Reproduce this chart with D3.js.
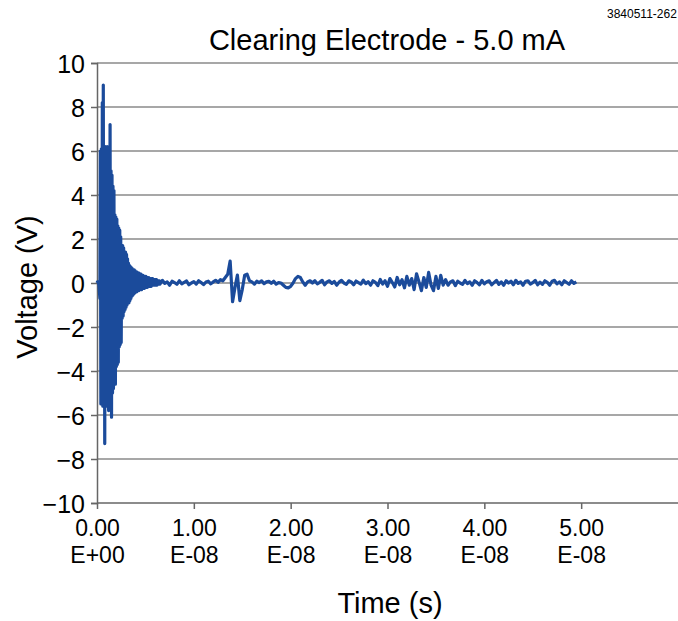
<html>
<head>
<title>Clearing Electrode - 5.0 mA</title>
<script src="https://d3js.org/d3.v7.min.js"></script>
<style>
body { margin: 0; background: #fff; }
text { font-family: "Liberation Sans", Arial, Helvetica, sans-serif; fill: #000; }
</style>
</head>
<body>
<script>

// tick labels
var yTicks = [-10, -8, -6, -4, -2, 0, 2, 4, 6, 8, 10];
var xTicks = [0, 10, 20, 30, 40, 50];           // ns
var xTickTop = ["0.00", "1.00", "2.00", "3.00", "4.00", "5.00"];
var xTickBottom = ["E+00", "E-08", "E-08", "E-08", "E-08", "E-08"];

// scope trace (time in ns, voltage in V)
// burst part sampled every 0.05 ns from t = 0
var burstStart = 0, burstStep = 0.05;
var burstV = [
  0, 0.05, 0.05, 0, -0.1, -0.4, -0.7, 6.0, -5.5, 6.1,
  -5.4, 8.2, -5.6, 9.0, -5.2, 6.2, -7.3, 6.2, -5.6, 6.1,
  -5.3, 6.2, -5.6, 6.0, -5.8, 6.2, -5.2, 7.2, -5.6, 5.1,
  -6.1, 4.9, -5.0, 4.4, -4.8, 4.2, -4.6, 3.1, -4.6, 3.0,
  -3.8, 2.9, -3.7, 2.6, -3.6, 2.5, -2.9, 2.4, -2.8, 2.1,
  -2.7, 1.7, -1.6, 1.7, -1.5, 1.6, -1.3, 1.4, -1.2, 1.4,
  -1.1, 1.3, -1.0, 1.1, -0.9, 0.9, -0.9, 0.8, -0.8, 0.75,
  -0.7, 0.7, -0.6, 0.65, -0.55, 0.6, -0.5, 0.6, -0.45, 0.55,
  -0.4, 0.5, -0.4, 0.5, -0.35, 0.45, -0.35, 0.45, -0.3, 0.4,
  -0.3, 0.4, -0.3, 0.35, -0.25, 0.35, -0.25, 0.3, -0.25, 0.3,
  -0.2, 0.3, -0.2, 0.25, -0.2, 0.25, -0.15, 0.25, -0.15, 0.2,
  -0.15, 0.2, -0.15, 0.2, -0.1, 0.2, -0.1, 0.15, -0.1, 0.15,
  -0.1, 0.15, -0.1, 0.15, -0.1, 0.1, -0.05, 0.1, -0.05, 0.1,
  -0.05
];
// rest of the trace sampled every 0.25 ns from t = 6.75
var tailStart = 6.75, tailStep = 0.25;
var tailV = [
  0.12, -0.02, 0.05, -0.1, 0.08, 0.02, -0.06, 0.1, -0.04, 0.03,
  0.09, -0.08, 0.0, 0.06, -0.05, 0.1, 0.02, -0.07, 0.04, 0.08,
  -0.04, 0.05, 0.12, 0.03, 0.15, 0.1,
  0.25, 0.4, 1.0, -0.85, -0.2, 0.36, -0.8, -0.3, 0.35, 0.4, 0.1, 0.05,
  -0.05, 0.08, 0.02, 0.1, -0.03, 0.05, 0.08, -0.02, 0.08, -0.05,
  0.02, 0.0, -0.1, -0.2, -0.22, -0.15, 0.0, 0.2, 0.3, 0.25,
  0.05, -0.1, 0.05, 0.1, 0.0,
  0.1, -0.04, 0.03, 0.12, -0.08, 0.05, 0.1, -0.02, 0.07, -0.1,
  0.04, 0.12, 0.0, -0.06, 0.1, 0.05, -0.08, 0.09, 0.02, -0.05,
  0.13, -0.03, 0.06, -0.1, 0.1, 0.03, -0.12, 0.16, -0.05, 0.1,
  -0.15, 0.2, 0.02, -0.18, 0.25, -0.08, 0.15, -0.22, 0.3, -0.1,
  0.2, -0.3, 0.42, 0.05, -0.35, 0.25, -0.2, 0.48, -0.1, -0.35,
  0.3, -0.25, 0.35, -0.1,
  0.15, -0.1, 0.05, 0.1, -0.12, 0.08, 0.0, -0.06, 0.12, -0.03,
  0.05, -0.1, 0.1, 0.02, -0.08, 0.12, -0.04, 0.06, 0.1, -0.08,
  0.02, 0.12, -0.06, 0.05, -0.1, 0.1, 0.0, 0.08, -0.08, 0.12,
  -0.02, 0.05, -0.1, 0.08, 0.1, -0.05, 0.02, 0.12, -0.08, 0.04,
  -0.06, 0.1, 0.03, -0.1, 0.08, 0.12, -0.04, 0.05, -0.08, 0.1,
  0.02, -0.06, 0.1, -0.02, 0.05
];

var width = 678, height = 621;
var margin = {top: 63, right: 0, bottom: 118, left: 97};

var svg = d3.select("body").append("svg")
    .attr("width", width)
    .attr("height", height);

var x = d3.scaleLinear().domain([0, 60]).range([margin.left, width - margin.right]);
var y = d3.scaleLinear().domain([-10, 10]).range([height - margin.bottom, margin.top]);

var points = [];
burstV.forEach(function(v, i) { points.push([burstStart + i * burstStep, v]); });
tailV.forEach(function(v, i) { points.push([tailStart + i * tailStep, v]); });

// grid
svg.append("g")
  .selectAll("line")
  .data(yTicks.filter(function(d) { return d > -10; }))
  .enter().append("line")
    .attr("x1", x(0)).attr("x2", x(60))
    .attr("y1", function(d) { return y(d); })
    .attr("y2", function(d) { return y(d); })
    .attr("stroke", "#8a8a8a")
    .attr("stroke-width", 1.5);

// y axis
var yAxis = svg.append("g")
    .attr("transform", "translate(" + x(0) + ",0)")
    .call(d3.axisLeft(y).tickValues(yTicks).tickSize(6).tickPadding(6)
      .tickFormat(function(d) { return d < 0 ? "\u2212" + Math.abs(d) : d; }));
yAxis.select(".domain").attr("stroke", "#666").attr("stroke-width", 1.5);
yAxis.selectAll(".tick line").attr("stroke", "#666").attr("stroke-width", 1.5);
yAxis.selectAll("text").style("font-size", "25px").attr("dy", "0.36em");

// x axis, two-line labels (mantissa over exponent)
var xAxis = svg.append("g")
    .attr("transform", "translate(0," + y(-10) + ")")
    .call(d3.axisBottom(x).tickValues(xTicks).tickSize(6).tickFormat(""));
xAxis.select(".domain").attr("d", "M" + x(0) + ",0H" + x(60)).attr("stroke", "#666").attr("stroke-width", 1.5);
xAxis.selectAll(".tick line").attr("stroke", "#666").attr("stroke-width", 1.5);
xAxis.selectAll(".tick").each(function(d, i) {
  var g = d3.select(this);
  g.append("text")
    .attr("text-anchor", "middle")
    .attr("y", 33)
    .style("font-size", "23px")
    .text(xTickTop[i]);
  g.append("text")
    .attr("text-anchor", "middle")
    .attr("y", 60)
    .style("font-size", "23px")
    .text(xTickBottom[i]);
});

// trace
svg.append("path")
  .datum(points)
  .attr("fill", "none")
  .attr("stroke", "#1b4b9b")
  .attr("stroke-width", 3.2)
  .attr("stroke-linejoin", "round")
  .attr("d", d3.line()
    .x(function(d) { return x(d[0]); })
    .y(function(d) { return y(d[1]); }));

// titles
svg.append("text")
  .attr("x", 387).attr("y", 50)
  .attr("text-anchor", "middle")
  .style("font-size", "29px")
  .text("Clearing Electrode - 5.0 mA");

svg.append("text")
  .attr("transform", "translate(37,287) rotate(-90)")
  .attr("text-anchor", "middle")
  .style("font-size", "29px")
  .text("Voltage (V)");

svg.append("text")
  .attr("x", 390).attr("y", 613)
  .attr("text-anchor", "middle")
  .style("font-size", "29px")
  .text("Time (s)");

svg.append("text")
  .attr("x", 607).attr("y", 18)
  .style("font-size", "12px")
  .text("3840511-262");

</script>
</body>
</html>
